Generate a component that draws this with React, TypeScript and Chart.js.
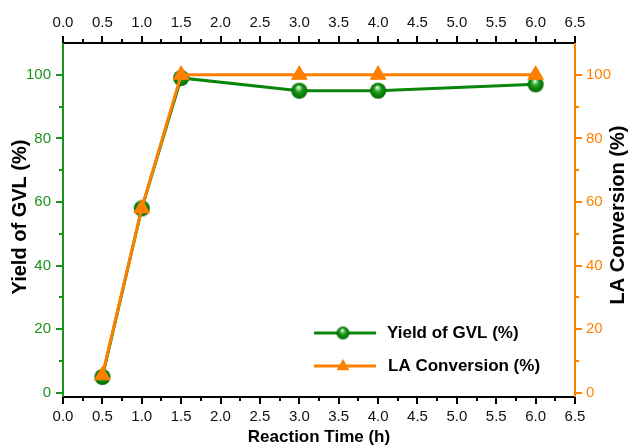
import React, { useEffect, useRef } from 'react';
import { Chart, registerables } from 'chart.js';

Chart.register(...registerables);

// ---- data ----
const reactionTimes = [0.5, 1.0, 1.5, 3.0, 4.0, 6.0];
const yieldGVL = [5, 58, 99, 95, 95, 97];
const laConversion = [5.5, 58, 100, 100, 100, 100];

const xTickValues = [0, 0.5, 1.0, 1.5, 2.0, 2.5, 3.0, 3.5, 4.0, 4.5, 5.0, 5.5, 6.0, 6.5];
const yTickValues = [0, 20, 40, 60, 80, 100];

const seriesNames = ['Yield of GVL (%)', 'LA Conversion (%)'];
const xTitle = 'Reaction Time (h)';
const yLeftTitle = 'Yield of GVL (%)';
const yRightTitle = 'LA Conversion (%)';

// ---- styles ----
const FONT = '"Liberation Sans", Arial, Helvetica, sans-serif';
const GREEN = '#0a860a';
const GREEN_AXIS = '#1a931a';
const ORANGE = '#ff8000';
const W = 629;
const H = 446;

function makeSphere(r: number): HTMLCanvasElement {
  const c = document.createElement('canvas');
  const s = Math.ceil(2 * r + 2);
  c.width = s;
  c.height = s;
  const g = c.getContext('2d')!;
  const cx = s / 2;
  const cy = s / 2;
  const grad = g.createRadialGradient(cx - r * 0.1, cy - r * 0.45, r * 0.04, cx, cy, r);
  grad.addColorStop(0, '#ffffff');
  grad.addColorStop(0.22, '#7fd07f');
  grad.addColorStop(0.45, '#189c18');
  grad.addColorStop(0.85, '#067806');
  grad.addColorStop(1, '#045f04');
  g.fillStyle = grad;
  g.beginPath();
  g.arc(cx, cy, r, 0, Math.PI * 2);
  g.fill();
  return c;
}

function midpoints(arr: number[]): number[] {
  const out: number[] = [];
  for (let i = 0; i < arr.length - 1; i++) out.push((arr[i] + arr[i + 1]) / 2);
  return out;
}

function drawTriangle(ctx: CanvasRenderingContext2D, x: number, y: number, r: number, color: string) {
  const s = Math.sin(Math.PI / 3) * r;
  ctx.beginPath();
  ctx.moveTo(x, y - r);
  ctx.lineTo(x + s, y + r / 2);
  ctx.lineTo(x - s, y + r / 2);
  ctx.closePath();
  ctx.fillStyle = color;
  ctx.fill();
}

function makeDecorPlugin(legendSphere: HTMLCanvasElement) {
  return {
    id: 'axisDecor',
    afterDraw(chart: any) {
      const ctx: CanvasRenderingContext2D = chart.ctx;
      const { x, x2, y, y2 } = chart.scales;
      const area = chart.chartArea;
      ctx.save();
      ctx.lineCap = 'butt';
      const major = 7;
      const minor = 4;
      const xMinor = midpoints(xTickValues);
      const drawX = (scale: any, base: number, dir: number, color: string) => {
        ctx.strokeStyle = color;
        ctx.lineWidth = 2;
        ctx.beginPath();
        xTickValues.forEach((v) => {
          const px = Math.round(scale.getPixelForValue(v));
          ctx.moveTo(px, base);
          ctx.lineTo(px, base + dir * major);
        });
        xMinor.forEach((v) => {
          const px = Math.round(scale.getPixelForValue(v));
          ctx.moveTo(px, base);
          ctx.lineTo(px, base + dir * minor);
        });
        ctx.stroke();
      };
      drawX(x, area.bottom, 1, '#000');
      drawX(x2, area.top, -1, '#000');
      const yMinor = midpoints(yTickValues);
      const drawY = (scale: any, base: number, dir: number, color: string) => {
        ctx.strokeStyle = color;
        ctx.lineWidth = 2;
        ctx.beginPath();
        yTickValues.forEach((v) => {
          const py = Math.round(scale.getPixelForValue(v));
          ctx.moveTo(base, py);
          ctx.lineTo(base + dir * major, py);
        });
        yMinor.forEach((v) => {
          const py = Math.round(scale.getPixelForValue(v));
          ctx.moveTo(base, py);
          ctx.lineTo(base + dir * minor, py);
        });
        ctx.stroke();
      };
      drawY(y, area.left, -1, GREEN_AXIS);
      drawY(y2, area.right, 1, ORANGE);

      // axis titles
      ctx.fillStyle = '#000';
      ctx.textAlign = 'center';
      ctx.textBaseline = 'middle';
      ctx.font = `bold 17px ${FONT}`;
      ctx.fillText(xTitle, (area.left + area.right) / 2, 437);
      ctx.font = `bold 20px ${FONT}`;
      ctx.save();
      ctx.translate(20, 217);
      ctx.rotate(-Math.PI / 2);
      ctx.fillText(yLeftTitle, 0, 0);
      ctx.restore();
      ctx.save();
      ctx.translate(618, 215);
      ctx.rotate(-Math.PI / 2);
      ctx.fillText(yRightTitle, 0, 0);
      ctx.restore();

      // legend
      const lx0 = 314;
      const lx1 = 376;
      const mx = 343;
      const rows = [333, 366];
      ctx.lineWidth = 3;
      ctx.strokeStyle = GREEN;
      ctx.beginPath();
      ctx.moveTo(lx0, rows[0]);
      ctx.lineTo(lx1, rows[0]);
      ctx.stroke();
      ctx.drawImage(legendSphere, mx - legendSphere.width / 2, rows[0] - legendSphere.height / 2);
      ctx.strokeStyle = ORANGE;
      ctx.beginPath();
      ctx.moveTo(lx0, rows[1]);
      ctx.lineTo(lx1, rows[1]);
      ctx.stroke();
      drawTriangle(ctx, mx, rows[1] + 0.5, 7.5, ORANGE);
      ctx.fillStyle = '#000';
      ctx.font = `bold 17px ${FONT}`;
      ctx.textAlign = 'left';
      ctx.fillText(seriesNames[0], 387, rows[0]);
      ctx.fillText(seriesNames[1], 388, rows[1]);
      ctx.restore();
    },
  };
}

export default function App() {
  const ref = useRef<HTMLCanvasElement | null>(null);

  useEffect(() => {
    document.body.style.margin = '0';
    const canvas = ref.current;
    if (!canvas) return;
    const sphere = makeSphere(8);
    const legendSphere = makeSphere(6.5);

    const tickFont = { family: FONT, size: 15 };

    const chart = new Chart(canvas, {
      type: 'line',
      data: {
        datasets: [
          {
            label: seriesNames[0],
            data: reactionTimes.map((t, i) => ({ x: t, y: yieldGVL[i] })),
            xAxisID: 'x',
            yAxisID: 'y',
            borderColor: GREEN,
            borderWidth: 3,
            pointStyle: sphere as any,
            pointRadius: 8,
            pointBorderWidth: 0,
            tension: 0,
            order: 1,
          },
          {
            label: seriesNames[1],
            data: reactionTimes.map((t, i) => ({ x: t, y: laConversion[i] })),
            xAxisID: 'x',
            yAxisID: 'y2',
            borderColor: ORANGE,
            borderWidth: 3,
            pointStyle: 'triangle',
            pointRadius: 9,
            pointBackgroundColor: ORANGE,
            pointBorderColor: ORANGE,
            pointBorderWidth: 1,
            tension: 0,
            order: 0,
          },
        ],
      },
      options: {
        responsive: false,
        animation: false,
        events: [],
        layout: { padding: 0 },
        plugins: {
          legend: { display: false },
          tooltip: { enabled: false },
        },
        scales: {
          x: {
            type: 'linear',
            position: 'bottom',
            min: 0,
            max: 6.5,
            afterBuildTicks: (s: any) => {
              s.ticks = xTickValues.map((v) => ({ value: v }));
            },
            afterFit: (s: any) => {
              s.height = 49;
            },
            ticks: {
              callback: (v: any) => Number(v).toFixed(1),
              color: '#111',
              font: tickFont,
              padding: 11,
              maxRotation: 0,
              autoSkip: false,
            },
            grid: { display: false, drawTicks: false },
            border: { display: true, color: '#000', width: 2 },
          },
          x2: {
            type: 'linear',
            position: 'top',
            min: 0,
            max: 6.5,
            afterBuildTicks: (s: any) => {
              s.ticks = xTickValues.map((v) => ({ value: v }));
            },
            afterFit: (s: any) => {
              s.height = 43;
            },
            ticks: {
              callback: (v: any) => Number(v).toFixed(1),
              color: '#111',
              font: tickFont,
              padding: 11,
              maxRotation: 0,
              autoSkip: false,
            },
            grid: { display: false, drawTicks: false },
            border: { display: true, color: '#000', width: 2 },
          },
          y: {
            type: 'linear',
            position: 'left',
            min: -1.3,
            max: 110,
            afterBuildTicks: (s: any) => {
              s.ticks = yTickValues.map((v) => ({ value: v }));
            },
            afterFit: (s: any) => {
              s.width = 63;
            },
            ticks: {
              callback: (v: any) => String(v),
              color: GREEN_AXIS,
              font: tickFont,
              padding: 12,
            },
            grid: { display: false, drawTicks: false },
            border: { display: true, color: GREEN_AXIS, width: 2 },
          },
          y2: {
            type: 'linear',
            position: 'right',
            min: -1.3,
            max: 110,
            afterBuildTicks: (s: any) => {
              s.ticks = yTickValues.map((v) => ({ value: v }));
            },
            afterFit: (s: any) => {
              s.width = 54;
            },
            ticks: {
              callback: (v: any) => String(v),
              color: ORANGE,
              font: tickFont,
              padding: 11,
            },
            grid: { display: false, drawTicks: false },
            border: { display: true, color: ORANGE, width: 2 },
          },
        },
      } as any,
      plugins: [makeDecorPlugin(legendSphere) as any],
    });

    return () => {
      chart.destroy();
    };
  }, []);

  return (
    <div style={{ position: 'absolute', left: 0, top: 0, width: W, height: H, background: '#fff' }}>
      <canvas ref={ref} width={W} height={H} style={{ display: 'block', width: W, height: H }} />
    </div>
  );
}
